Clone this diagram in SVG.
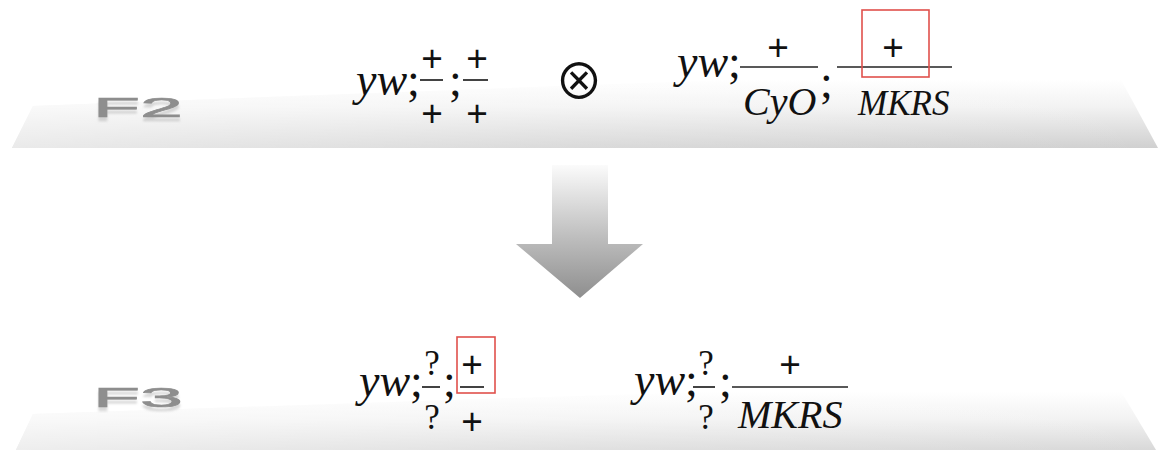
<svg xmlns="http://www.w3.org/2000/svg" width="1159" height="450" viewBox="0 0 1159 450">
  <style>
    .it { font-family: "Liberation Serif", "Times New Roman", serif; font-style: italic; fill: #111; }
    .rm { font-family: "Liberation Serif", "Times New Roman", serif; fill: #111; }
    .pl { font-family: "Liberation Sans", Arial, sans-serif; fill: #111; text-anchor: middle; }
    .bar { stroke: #222; stroke-width: 1.7; fill: none; }
    .hl { stroke: #e0504c; stroke-width: 1.6; fill: none; }
    .gen { font-family: "Liberation Sans", Arial, sans-serif; font-size: 28px; fill: #8e8e8e; stroke: #8e8e8e; stroke-width: 0.6; }
  </style>
  <defs>
    <linearGradient id="platTop" gradientUnits="userSpaceOnUse" x1="0" y1="80" x2="0" y2="148">
      <stop offset="0" stop-color="#ffffff"/>
      <stop offset="0.4" stop-color="#f2f2f2"/>
      <stop offset="1" stop-color="#d0d0d0"/>
    </linearGradient>
    <linearGradient id="platBot" gradientUnits="userSpaceOnUse" x1="0" y1="392" x2="0" y2="460">
      <stop offset="0" stop-color="#ffffff"/>
      <stop offset="0.4" stop-color="#f2f2f2"/>
      <stop offset="1" stop-color="#d0d0d0"/>
    </linearGradient>
    <linearGradient id="platSide" x1="0" y1="0" x2="1" y2="0">
      <stop offset="0" stop-color="#ffffff" stop-opacity="0.55"/>
      <stop offset="0.5" stop-color="#ffffff" stop-opacity="0.2"/>
      <stop offset="1" stop-color="#ffffff" stop-opacity="0"/>
    </linearGradient>
    <linearGradient id="arrowGrad" gradientUnits="userSpaceOnUse" x1="0" y1="165" x2="0" y2="298">
      <stop offset="0" stop-color="#fbfbfb"/>
      <stop offset="0.55" stop-color="#bdbdbd"/>
      <stop offset="1" stop-color="#8e8e8e"/>
    </linearGradient>
    <filter id="soft" x="-10%" y="-30%" width="120%" height="170%">
      <feGaussianBlur in="SourceGraphic" stdDeviation="0.6" result="b"/>
      <feOffset in="SourceAlpha" dy="4" result="o"/>
      <feGaussianBlur in="o" stdDeviation="1" result="ob"/>
      <feFlood flood-color="#a0a0a0" flood-opacity="0.4"/>
      <feComposite in2="ob" operator="in" result="sh"/>
      <feMerge><feMergeNode in="sh"/><feMergeNode in="b"/></feMerge>
    </filter>
  </defs>

  <rect width="1159" height="450" fill="#ffffff"/>

  <g id="platform-f2">
    <polygon points="12,148 33,106 1113,65 1158,148" fill="url(#platTop)"/>
    <polygon points="12,148 33,106 1113,65 1158,148" fill="url(#platSide)"/>
  </g>
  <g id="platform-f3">
    <polygon points="15,452 33,414 1113,378 1168,470" fill="url(#platBot)"/>
    <polygon points="15,452 33,414 1113,378 1168,470" fill="url(#platSide)"/>
  </g>

  <g id="label-f2">
    <text class="gen" x="93" y="117" textLength="90" lengthAdjust="spacingAndGlyphs" filter="url(#soft)">F2</text>
  </g>
  <g id="label-f3">
    <text class="gen" x="93" y="407" textLength="90" lengthAdjust="spacingAndGlyphs" filter="url(#soft)">F3</text>
  </g>

  <g id="formula-f2-a">
    <text class="it" x="356" y="95" font-size="46">yw<tspan font-style="normal">;</tspan></text>
    <text class="pl" x="432" y="71" font-size="37">+</text>
    <line class="bar" x1="420" y1="80" x2="443" y2="80"/>
    <text class="pl" x="432" y="126" font-size="37">+</text>
    <text class="rm" x="449" y="95" font-size="46">;</text>
    <text class="pl" x="477" y="71" font-size="37">+</text>
    <line class="bar" x1="463" y1="80" x2="488" y2="80"/>
    <text class="pl" x="477" y="126" font-size="37">+</text>
  </g>

  <g id="cross-operator">
    <text x="579" y="99" font-family="Noto Sans CJK JP, DejaVu Sans, sans-serif" font-size="49" text-anchor="middle" fill="#111">⊗</text>
  </g>

  <g id="formula-f2-b">
    <text class="it" x="677" y="77" font-size="46">yw<tspan font-style="normal">;</tspan></text>
    <text class="pl" x="778" y="60" font-size="37">+</text>
    <line class="bar" x1="740" y1="67" x2="818" y2="67"/>
    <text class="it" x="743" y="115" font-size="40">CyO</text>
    <text class="rm" x="820" y="97" font-size="46">;</text>
    <text class="pl" x="893" y="60" font-size="37">+</text>
    <line class="bar" x1="837" y1="67" x2="952" y2="67"/>
    <text class="it" x="858" y="115" font-size="35">MKRS</text>
    <rect class="hl" x="862" y="10" width="67" height="67"/>
  </g>

  <g id="connectors">
    <polygon points="552,165 608,165 608,244 643,244 580,298 516,244 552,244" fill="url(#arrowGrad)"/>
  </g>

  <g id="formula-f3-a">
    <text class="it" x="359" y="396" font-size="46">yw<tspan font-style="normal">;</tspan></text>
    <text class="rm" x="432" y="375" font-size="35" text-anchor="middle">?</text>
    <line class="bar" x1="422" y1="387" x2="440" y2="387"/>
    <text class="rm" x="432" y="429" font-size="35" text-anchor="middle">?</text>
    <text class="rm" x="443" y="396" font-size="46">;</text>
    <text class="pl" x="472" y="377" font-size="37">+</text>
    <line class="bar" x1="460" y1="387" x2="484" y2="387"/>
    <text class="pl" x="472" y="434" font-size="37">+</text>
    <rect class="hl" x="457" y="337" width="38" height="56"/>
  </g>

  <g id="formula-f3-b">
    <text class="it" x="634" y="395" font-size="46">yw<tspan font-style="normal">;</tspan></text>
    <text class="rm" x="706" y="375" font-size="35" text-anchor="middle">?</text>
    <line class="bar" x1="693" y1="387" x2="715" y2="387"/>
    <text class="rm" x="706" y="429" font-size="35" text-anchor="middle">?</text>
    <text class="rm" x="719" y="396" font-size="46">;</text>
    <text class="pl" x="790" y="377" font-size="37">+</text>
    <line class="bar" x1="732" y1="387" x2="848" y2="387"/>
    <text class="it" x="738" y="428" font-size="40">MKRS</text>
  </g>
</svg>
